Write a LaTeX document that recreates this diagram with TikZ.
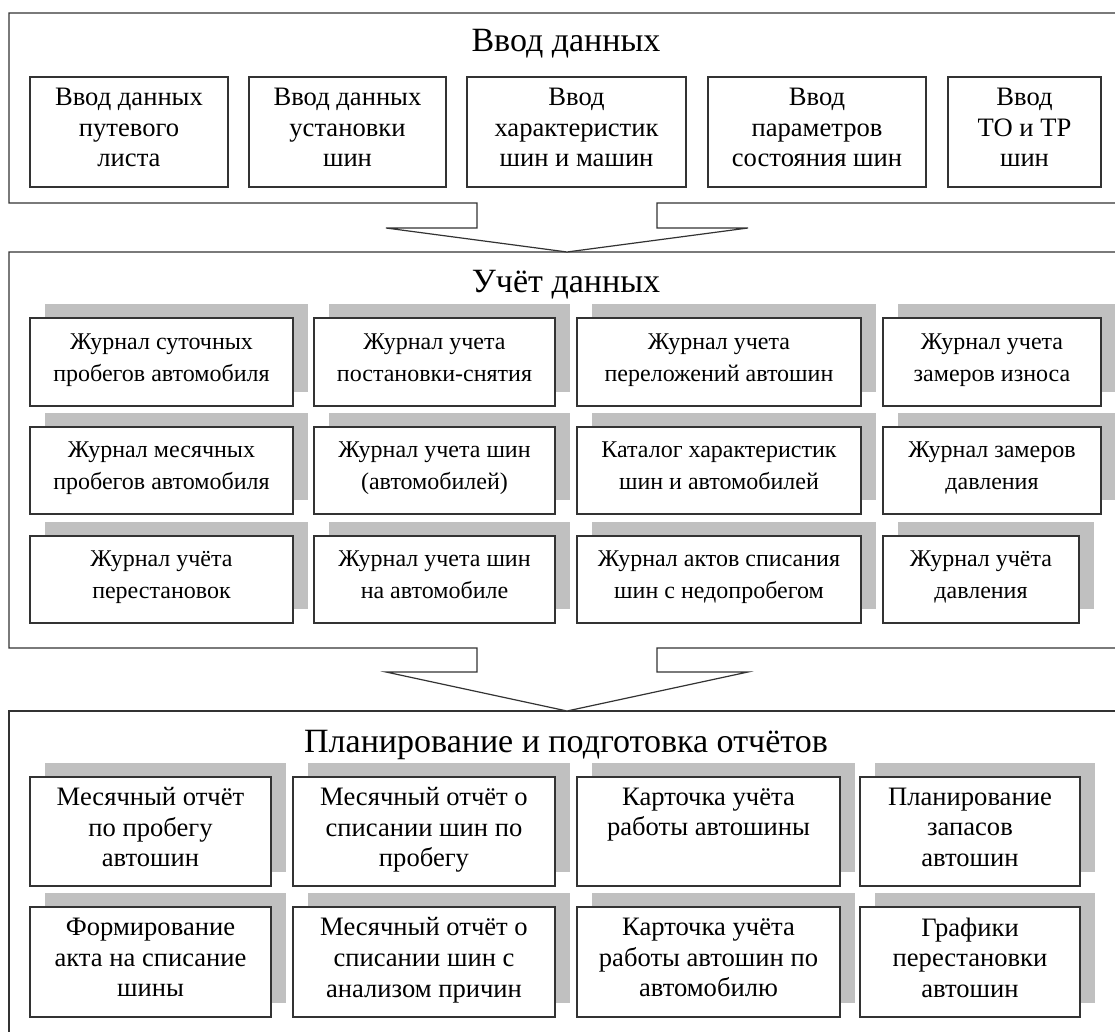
\documentclass[tikz,border=0pt]{standalone}
\usepackage{fontspec}
\setmainfont{Liberation Serif}
\tikzstyle{diagram} = [x = 0.5pt, y = -0.5pt]
\definecolor{lineColor}{RGB}{51,51,51}
\definecolor{shadowColor}{RGB}{192,192,192}
\newcommand{\boxFont}{\fontsize{13.3}{15.3}\selectfont}
\newcommand{\journalFont}{\fontsize{12}{16}\selectfont}
\newcommand{\titleFont}{\fontsize{17}{20}\selectfont}
\tikzstyle{panelLine} = [draw=lineColor, line width=0.6pt, fill=white]
\tikzstyle{plainBox} = [draw=lineColor, line width=0.6pt, fill=white, align=center, inner sep=0pt, font=\boxFont, execute at begin node=\strut, execute at end node=\strut]
\tikzstyle{journalBox} = [plainBox, font=\journalFont]
\tikzstyle{shadowStyle} = [fill=shadowColor]
\tikzstyle{panelTitle} = [font=\titleFont, inner sep=0pt, anchor=base]
\newcommand{\entryBox}[7][plainBox]{\node [#1, minimum width={(#5 - #3) * 0.5pt}, minimum height={(#6 - #4) * 0.5pt}] (#2) at ({(#3 + #5) / 2}, {(#4 + #6) / 2}) {#7};}
\newcommand{\shadowBox}[7][plainBox]{\fill [shadowStyle] ({#3 + 15}, {#4 - 14}) rectangle ({#5 + 15}, {#6 - 14}); \entryBox[#1]{#2}{#3}{#4}{#5}{#6}{#7}}
\newcommand{\arrowPanel}[4]{\draw [panelLine] (9, #2) -- (9, #1) -- (1140, #1) -- (1140, #2) -- (657, #2) -- (657, #3) -- (748, #3) -- (567, #4) -- (386, #3) -- (477, #3) -- (477, #2) -- cycle;}

\begin{document}
\begin{tikzpicture}[diagram]
    \useasboundingbox [fill=white] (0, 0) rectangle (1115, 1032);
    \clip (0, 0) rectangle (1115, 1032);
    \draw [panelLine] (9, 711) rectangle (1140, 1060);
    \arrowPanel{252}{648}{672}{711}
    \arrowPanel{13}{203}{228}{252}
    \node [panelTitle] (titleInput) at (566, 52) {Ввод данных};
    \node [panelTitle] (titleAccount) at (566, 293) {Учёт данных};
    \node [panelTitle] (titlePlan) at (566, 752) {Планирование и подготовка отчётов};
    \entryBox{inTrip}{30}{77}{228}{187}{Ввод данных\\путевого\\листа}
    \entryBox{inMount}{249}{77}{446}{187}{Ввод данных\\установки\\шин}
    \entryBox{inSpecs}{467}{77}{686}{187}{Ввод\\характеристик\\шин и машин}
    \entryBox{inState}{708}{77}{926}{187}{Ввод\\параметров\\состояния шин}
    \entryBox{inService}{948}{77}{1101}{187}{Ввод\\ТО и ТР\\шин}
    \shadowBox[journalBox]{jDaily}{30}{318}{293}{406}{Журнал суточных\\пробегов автомобиля}
    \shadowBox[journalBox]{jMount}{314}{318}{555}{406}{Журнал учета\\постановки-снятия}
    \shadowBox[journalBox]{jShift}{577}{318}{861}{406}{Журнал учета\\переложений автошин}
    \shadowBox[journalBox]{jWear}{883}{318}{1101}{406}{Журнал учета\\замеров износа}
    \shadowBox[journalBox]{jMonthly}{30}{427}{293}{514}{Журнал месячных\\пробегов автомобиля}
    \shadowBox[journalBox]{jTires}{314}{427}{555}{514}{Журнал учета шин\\(автомобилей)}
    \shadowBox[journalBox]{jCatalog}{577}{427}{861}{514}{Каталог характеристик\\шин и автомобилей}
    \shadowBox[journalBox]{jGauge}{883}{427}{1101}{514}{Журнал замеров\\давления}
    \shadowBox[journalBox]{jRotation}{30}{536}{293}{623}{Журнал учёта\\перестановок}
    \shadowBox[journalBox]{jOnCar}{314}{536}{555}{623}{Журнал учета шин\\на автомобиле}
    \shadowBox[journalBox]{jWriteOff}{577}{536}{861}{623}{Журнал актов списания\\шин с недопробегом}
    \shadowBox[journalBox]{jPressure}{883}{536}{1079}{623}{Журнал учёта\\давления}
    \shadowBox{pMileage}{30}{777}{271}{886}{Месячный отчёт\\по пробегу\\автошин}
    \shadowBox{pWriteOff}{293}{777}{555}{886}{Месячный отчёт о\\списании шин по\\пробегу}
    \shadowBox{pCard}{577}{777}{840}{886}{Карточка учёта\\работы автошины\\\mbox{}}
    \shadowBox{pStock}{860}{777}{1080}{886}{Планирование\\запасов\\автошин}
    \shadowBox{pAct}{30}{907}{271}{1017}{Формирование\\акта на списание\\шины}
    \shadowBox{pCauses}{293}{907}{555}{1017}{Месячный отчёт о\\списании шин с\\анализом причин}
    \shadowBox{pCarCard}{577}{907}{840}{1017}{Карточка учёта\\работы автошин по\\автомобилю}
    \shadowBox{pCharts}{860}{907}{1080}{1017}{Графики\\перестановки\\автошин}
\end{tikzpicture}
\end{document}
